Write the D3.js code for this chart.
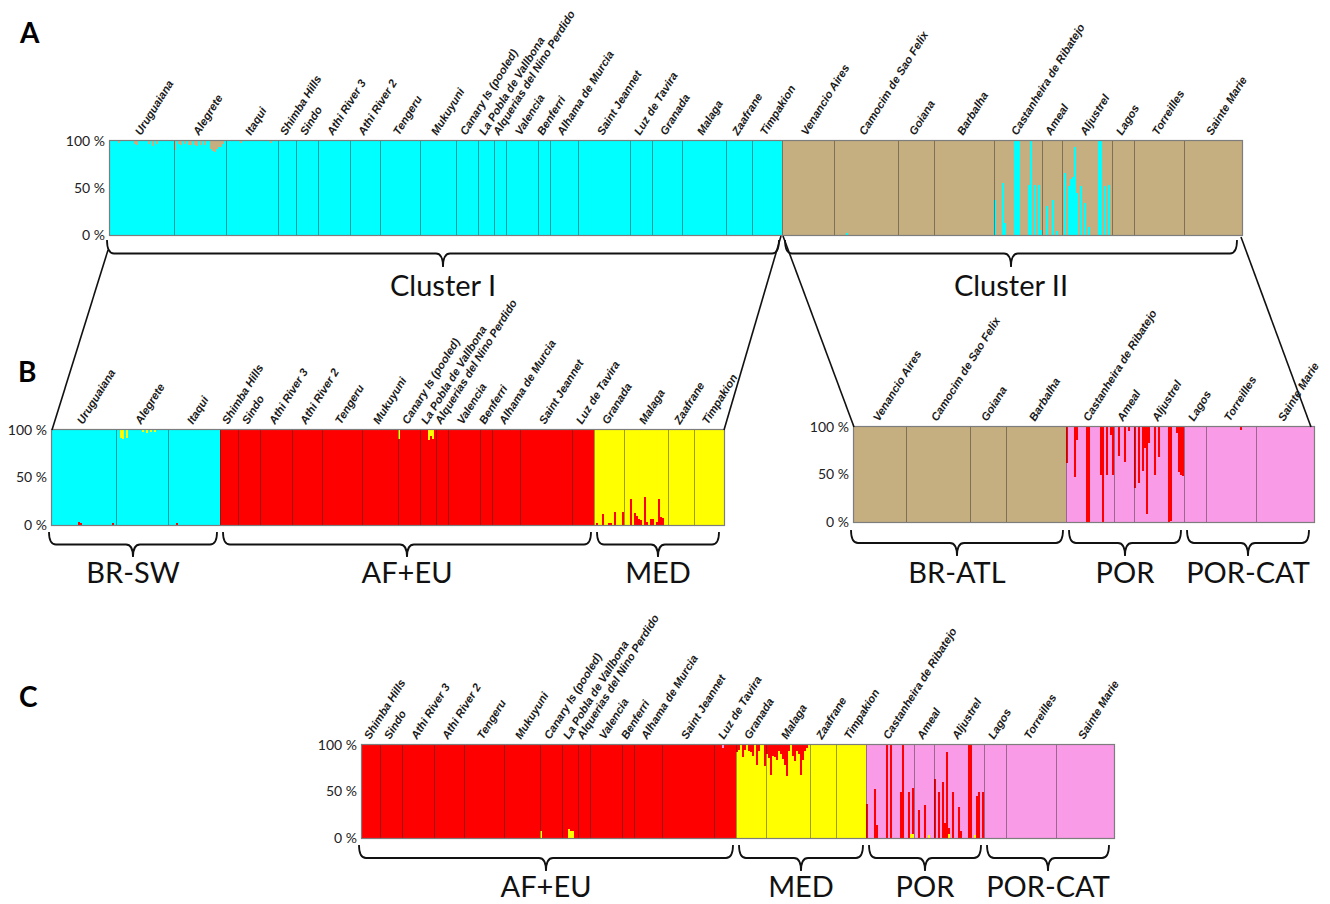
<!DOCTYPE html>
<html>
<head>
<meta charset="utf-8">
<script src="https://cdnjs.cloudflare.com/ajax/libs/d3/7.8.5/d3.min.js"></script>
<style>
  body { margin: 0; background: #fff; }
  svg { display: block; background: #fff; }
  .pop { font-family: "Liberation Sans", Arial, sans-serif; font-size: 11.3px; font-weight: bold; font-style: italic; fill: #1a1a1a; }
  .pct text { font-family: Lato, sans-serif; font-size: 14px; fill: #222; }
  .grp { font-family: Lato, sans-serif; font-size: 29px; fill: #111; }
  .letter { font-family: Lato, sans-serif; font-size: 28px; font-weight: bold; fill: #000; }
</style>
</head>
<body>
<svg id="fig" width="1330" height="904"></svg>
<script>
// populations in plotting order and number of individuals in each
var popNames = ["Uruguaiana", "Alegrete", "Itaqui", "Shimba Hills", "Sindo", "Athi River 3", "Athi River 2",
  "Tengeru", "Mukuyuni", "Canary Is (pooled)", "La Pobla de Vallbona", "Alquerias del Nino Perdido",
  "Valencia", "Benferri", "Alhama de Murcia", "Saint Jeannet", "Luz de Tavira", "Granada", "Malaga",
  "Zaafrane", "Timpakion", "Venancio Aires", "Camocim de Sao Felix", "Goiana", "Barbalha",
  "Castanheira de Ribatejo", "Ameal", "Aljustrel", "Lagos", "Torreilles", "Sainte Marie"];
var popSizes = [32, 26, 26, 9, 11, 16, 15, 20, 18, 11, 8, 6, 16, 6, 14, 26, 11, 15, 22, 13, 15,
  26, 32, 18, 30, 24, 10, 25, 11, 25, 29];
var popGroup = [0, 0, 0, 1, 1, 1, 1, 1, 1, 1, 1, 1, 1, 1, 1, 1, 1, 2, 2, 2, 2, 3, 3, 3, 3, 4, 4, 4, 5, 5, 5];
var groupNames = ["BR-SW", "AF+EU", "MED", "BR-ATL", "POR", "POR-CAT"];

var colors = { cyan: "#00ffff", tan: "#c5ae80", red: "#ff0000", yellow: "#ffff00", pink: "#f99be7" };

// admixed individuals: [population, individual, share]
// A (K=2)
var aTan = [["Uruguaiana", 4, 0.02], ["Uruguaiana", 12, 0.03], ["Uruguaiana", 13, 0.04], ["Uruguaiana", 19, 0.03],
  ["Uruguaiana", 21, 0.05], ["Uruguaiana", 23, 0.03],
  ["Alegrete", 0, 0.1], ["Alegrete", 2, 0.03], ["Alegrete", 3, 0.04], ["Alegrete", 5, 0.03], ["Alegrete", 7, 0.04],
  ["Alegrete", 8, 0.04], ["Alegrete", 10, 0.04], ["Alegrete", 11, 0.05], ["Alegrete", 13, 0.04], ["Alegrete", 15, 0.04],
  ["Alegrete", 18, 0.08], ["Alegrete", 19, 0.11], ["Alegrete", 20, 0.12], ["Alegrete", 21, 0.09], ["Alegrete", 22, 0.06],
  ["Alegrete", 23, 0.06], ["Alegrete", 24, 0.03],
  ["Itaqui", 7, 0.02], ["Itaqui", 22, 0.02]];
var aCyan = [["Camocim de Sao Felix", 6, 0.02],
  ["Castanheira de Ribatejo", 0, 0.37], ["Castanheira de Ribatejo", 4, 0.55], ["Castanheira de Ribatejo", 5, 0.13],
  ["Castanheira de Ribatejo", 10, 1], ["Castanheira de Ribatejo", 11, 1], ["Castanheira de Ribatejo", 12, 1],
  ["Castanheira de Ribatejo", 17, 0.53], ["Castanheira de Ribatejo", 18, 1], ["Castanheira de Ribatejo", 20, 0.53],
  ["Castanheira de Ribatejo", 22, 0.53], ["Castanheira de Ribatejo", 23, 0.05],
  ["Ameal", 2, 0.31], ["Ameal", 5, 0.37], ["Ameal", 7, 0.04],
  ["Aljustrel", 1, 0.66], ["Aljustrel", 3, 0.52], ["Aljustrel", 4, 0.6], ["Aljustrel", 5, 0.62], ["Aljustrel", 6, 0.94],
  ["Aljustrel", 7, 0.45], ["Aljustrel", 9, 0.52], ["Aljustrel", 11, 0.34], ["Aljustrel", 13, 0.08], ["Aljustrel", 18, 1],
  ["Aljustrel", 19, 1], ["Aljustrel", 21, 0.52], ["Aljustrel", 23, 0.53]];
// B, cluster I (K=3)
var bRed = [["Uruguaiana", 13, 0.03], ["Uruguaiana", 14, 0.02], ["Uruguaiana", 30, 0.02], ["Itaqui", 4, 0.02],
  ["Granada", 1, 0.02], ["Granada", 4, 0.12], ["Granada", 7, 0.02], ["Granada", 8, 0.02], ["Granada", 10, 0.14],
  ["Granada", 14, 0.14],
  ["Malaga", 3, 0.27], ["Malaga", 5, 0.13], ["Malaga", 6, 0.09], ["Malaga", 7, 0.06], ["Malaga", 8, 0.05],
  ["Malaga", 10, 0.29], ["Malaga", 11, 0.03], ["Malaga", 13, 0.06], ["Malaga", 14, 0.06], ["Malaga", 16, 0.03],
  ["Malaga", 17, 0.27], ["Malaga", 18, 0.08], ["Malaga", 19, 0.07]];
var bYellow = [["Alegrete", 2, 0.08], ["Alegrete", 3, 0.09], ["Alegrete", 5, 0.08], ["Alegrete", 13, 0.02],
  ["Alegrete", 15, 0.03], ["Alegrete", 17, 0.02], ["Alegrete", 19, 0.02],
  ["Canary Is (pooled)", 0, 0.09], ["La Pobla de Vallbona", 4, 0.1], ["La Pobla de Vallbona", 5, 0.06],
  ["La Pobla de Vallbona", 6, 0.09]];
// B, cluster II
var bRightRed = [["Castanheira de Ribatejo", 0, 0.38], ["Castanheira de Ribatejo", 4, 0.53],
  ["Castanheira de Ribatejo", 5, 0.14], ["Castanheira de Ribatejo", 10, 1], ["Castanheira de Ribatejo", 11, 1],
  ["Castanheira de Ribatejo", 17, 0.5], ["Castanheira de Ribatejo", 18, 1], ["Castanheira de Ribatejo", 20, 0.5],
  ["Castanheira de Ribatejo", 22, 0.08], ["Castanheira de Ribatejo", 23, 0.5],
  ["Ameal", 2, 0.3], ["Ameal", 5, 0.37], ["Ameal", 7, 0.04],
  ["Aljustrel", 0, 0.64], ["Aljustrel", 2, 0.59], ["Aljustrel", 4, 0.46], ["Aljustrel", 5, 0.22], ["Aljustrel", 6, 0.92],
  ["Aljustrel", 7, 0.17], ["Aljustrel", 10, 0.5], ["Aljustrel", 12, 0.32], ["Aljustrel", 17, 1], ["Aljustrel", 18, 0.99],
  ["Aljustrel", 21, 0.06], ["Aljustrel", 22, 0.47], ["Aljustrel", 23, 0.5], ["Aljustrel", 24, 0.52],
  ["Torreilles", 17, 0.03]];
// C, without the Brazilian groups
var cRed = [["Granada", 0, 0.07], ["Granada", 1, 0.05], ["Granada", 3, 0.13], ["Granada", 4, 0.05], ["Granada", 6, 0.06],
  ["Granada", 7, 0.08], ["Granada", 8, 0.12], ["Granada", 10, 0.22], ["Granada", 11, 0.06], ["Granada", 14, 0.23],
  ["Malaga", 0, 0.1], ["Malaga", 1, 0.14], ["Malaga", 2, 0.32], ["Malaga", 3, 0.12], ["Malaga", 4, 0.13],
  ["Malaga", 5, 0.16], ["Malaga", 6, 0.06], ["Malaga", 7, 0.1], ["Malaga", 8, 0.15], ["Malaga", 9, 0.21],
  ["Malaga", 10, 0.33], ["Malaga", 11, 0.06], ["Malaga", 13, 0.12], ["Malaga", 14, 0.17], ["Malaga", 15, 0.06],
  ["Malaga", 16, 0.1], ["Malaga", 17, 0.32], ["Malaga", 18, 0.16], ["Malaga", 19, 0.06], ["Malaga", 20, 0.03],
  ["Castanheira de Ribatejo", 0, 0.37], ["Castanheira de Ribatejo", 4, 0.53], ["Castanheira de Ribatejo", 5, 0.14],
  ["Castanheira de Ribatejo", 10, 1], ["Castanheira de Ribatejo", 12, 1], ["Castanheira de Ribatejo", 17, 0.5],
  ["Castanheira de Ribatejo", 18, 1], ["Castanheira de Ribatejo", 21, 0.5], ["Castanheira de Ribatejo", 23, 0.5],
  ["Ameal", 2, 0.3], ["Ameal", 5, 0.36],
  ["Aljustrel", 0, 0.63], ["Aljustrel", 2, 0.5], ["Aljustrel", 4, 0.6], ["Aljustrel", 5, 0.16], ["Aljustrel", 6, 0.93],
  ["Aljustrel", 7, 0.07], ["Aljustrel", 9, 0.5], ["Aljustrel", 12, 0.33], ["Aljustrel", 13, 0.07], ["Aljustrel", 17, 1],
  ["Aljustrel", 18, 1], ["Aljustrel", 21, 0.45], ["Aljustrel", 22, 0.5], ["Aljustrel", 24, 0.5]];
var cYellow = [["Canary Is (pooled)", 0, 0.08], ["La Pobla de Vallbona", 3, 0.1], ["La Pobla de Vallbona", 4, 0.07],
  ["La Pobla de Vallbona", 5, 0.08], ["Castanheira de Ribatejo", 22, 0.04], ["Castanheira de Ribatejo", 23, 0.04],
  ["Ameal", 7, 0.03], ["Aljustrel", 7, 0.04], ["Aljustrel", 20, 0.03]];
var cPink = [["Luz de Tavira", 4, 0.03]];

var pctTicks = [0, 0.5, 1];

var plots = [
  { groups: [0, 1, 2, 3, 4, 5], x0: 110, x1: 1242, top: 141, bottom: 235,
    order: ["cyan", "tan"], base: ["cyan", "cyan", "cyan", "tan", "tan", "tan"],
    extra: { tan: aTan, cyan: aCyan },
    braces: [["Cluster I", [0, 1, 2]], ["Cluster II", [3, 4, 5]]], braceY: 240, braceH: 27, labelY: 296 },
  { groups: [0, 1, 2], x0: 52, x1: 724, top: 430, bottom: 525,
    order: ["red", "cyan", "yellow"], base: ["cyan", "red", "yellow"],
    extra: { red: bRed, yellow: bYellow },
    braces: [["BR-SW", [0]], ["AF+EU", [1]], ["MED", [2]]], braceY: 532, braceH: 25, labelY: 583 },
  { groups: [3, 4, 5], x0: 854, x1: 1314, top: 427, bottom: 522,
    order: ["tan", "pink", "red"], base: [null, null, null, "tan", "pink", "pink"],
    extra: { red: bRightRed },
    braces: [["BR-ATL", [3]], ["POR", [4]], ["POR-CAT", [5]]], braceY: 530, braceH: 26, labelY: 583 },
  { groups: [1, 2, 4, 5], x0: 362, x1: 1114, top: 745, bottom: 838,
    order: ["yellow", "red", "pink"], base: [null, "red", "yellow", null, "pink", "pink"],
    extra: { red: cRed, yellow: cYellow, pink: cPink },
    braces: [["AF+EU", [1]], ["MED", [2]], ["POR", [4]], ["POR-CAT", [5]]], braceY: 845, braceH: 26, labelY: 897 }
];

var letters = [["A", 20, 43], ["B", 18, 382], ["C", 19, 707]];

var svg = d3.select("#fig");

function brace(x0, x1, y0, h) {
  var y1 = y0 + h * 0.5, tip = y0 + h, xm = (x0 + x1) / 2, r = 7;
  return "M" + x0 + "," + y0 + "Q" + x0 + "," + y1 + " " + (x0 + r) + "," + y1 +
    "H" + (xm - r) + "Q" + xm + "," + y1 + " " + xm + "," + tip +
    "Q" + xm + "," + y1 + " " + (xm + r) + "," + y1 +
    "H" + (x1 - r) + "Q" + x1 + "," + y1 + " " + x1 + "," + y0;
}

plots.forEach(function(p) {
  // populations shown in this plot
  var pops = [];
  var n = 0;
  popNames.forEach(function(name, k) {
    if (p.groups.indexOf(popGroup[k]) >= 0) {
      pops.push({ name: name, size: popSizes[k], group: popGroup[k], start: n });
      n += popSizes[k];
    }
  });

  // one row per individual with its cluster shares
  var rows = [];
  pops.forEach(function(pop) {
    for (var i = 0; i < pop.size; i++) {
      var row = {};
      p.order.forEach(function(key) { row[key] = 0; });
      var used = 0;
      Object.keys(p.extra).forEach(function(key) {
        p.extra[key].forEach(function(e) {
          if (e[0] == pop.name && e[1] == i) { row[key] += e[2]; used += e[2]; }
        });
      });
      row[p.base[pop.group]] += Math.max(0, 1 - used);
      rows.push(row);
    }
  });

  var x = d3.scaleLinear().domain([0, n]).range([p.x0, p.x1]);
  var y = d3.scaleLinear().domain([0, 1]).range([p.bottom, p.top]);
  var series = d3.stack().keys(p.order)(rows);

  var g = svg.append("g");

  g.append("g").selectAll("g")
    .data(series)
    .enter().append("g")
      .attr("fill", function(s) { return colors[s.key]; })
    .selectAll("rect")
    .data(function(s) { return s.filter(function(d) { return d[1] - d[0] > 0; }).map(function(d) { return { d: d, j: rows.indexOf(d.data) }; }); })
    .enter().append("rect")
      .attr("x", function(o) { return x(o.j); })
      .attr("width", function(o) { return x(o.j + 1) - x(o.j); })
      .attr("y", function(o) { return y(o.d[1]); })
      .attr("height", function(o) { return y(o.d[0]) - y(o.d[1]); })
      .attr("shape-rendering", "crispEdges");

  // population separators
  g.append("g").selectAll("line")
    .data(pops.slice(1))
    .enter().append("line")
      .attr("x1", function(d) { return x(d.start) + 0.5; })
      .attr("x2", function(d) { return x(d.start) + 0.5; })
      .attr("y1", p.top)
      .attr("y2", p.bottom)
      .style("stroke", "rgba(40,40,40,0.45)")
      .style("stroke-width", 1);

  g.append("rect")
    .attr("x", p.x0 - 0.5).attr("y", p.top - 0.5)
    .attr("width", p.x1 - p.x0 + 1).attr("height", p.bottom - p.top + 1)
    .style("fill", "none").style("stroke", "#7d7d7d").style("stroke-width", 1.2);

  g.append("g")
    .attr("class", "pct")
    .attr("transform", "translate(" + (p.x0 - 2) + ",0)")
    .call(d3.axisLeft(y).tickValues(pctTicks).tickSize(0).tickPadding(3)
      .tickFormat(function(d) { return Math.round(d * 100) + " %"; }))
    .call(function(a) { a.select(".domain").remove(); });

  // rotated population names
  g.append("g").selectAll("text")
    .data(pops)
    .enter().append("text")
      .attr("class", "pop")
      .attr("transform", function(d) { return "translate(" + (x(d.start + d.size / 2) - 1) + "," + (p.top - 5) + ") rotate(-58)"; })
      .text(function(d) { return d.name; });

  // braces and group names
  p.braces.forEach(function(b, k) {
    var members = pops.filter(function(d) { return b[1].indexOf(d.group) >= 0; });
    var s = members[0].start, e = members[members.length - 1].start + members[members.length - 1].size;
    var bx0 = x(s) + (s == 0 ? -3 : 3), bx1 = x(e) - (e == n ? 5 : 3);
    g.append("path")
      .attr("d", brace(bx0, bx1, p.braceY, p.braceH))
      .style("fill", "none").style("stroke", "#111").style("stroke-width", 1.8);
    g.append("text")
      .attr("class", "grp")
      .attr("x", (bx0 + bx1) / 2)
      .attr("y", p.labelY)
      .attr("text-anchor", "middle")
      .text(b[0]);
  });

  p.xScale = x;
  p.n = n;
});

// lines from the clusters in A to the sub-plots in B
var pa = plots[0], pbl = plots[1], pbr = plots[2];
var split = pbl.n;
var links = [
  [pa.xScale(0) - 2, pa.braceY + 10, pbl.x0, pbl.top],
  [pa.xScale(split) - 1, pa.bottom + 1, pbl.x1, pbl.top],
  [pa.xScale(split) + 1, pa.bottom + 1, pbr.x0, pbr.top],
  [pa.xScale(pa.n) - 1, pa.bottom + 2, pbr.x1 - 3, pbr.top]
];
svg.append("g").selectAll("line")
  .data(links)
  .enter().append("line")
    .attr("x1", function(d) { return d[0]; })
    .attr("y1", function(d) { return d[1]; })
    .attr("x2", function(d) { return d[2]; })
    .attr("y2", function(d) { return d[3]; })
    .style("stroke", "#111").style("stroke-width", 1.6);

svg.append("g").selectAll("text")
  .data(letters)
  .enter().append("text")
    .attr("class", "letter")
    .attr("x", function(d) { return d[1]; })
    .attr("y", function(d) { return d[2]; })
    .text(function(d) { return d[0]; });
</script>
</body>
</html>
